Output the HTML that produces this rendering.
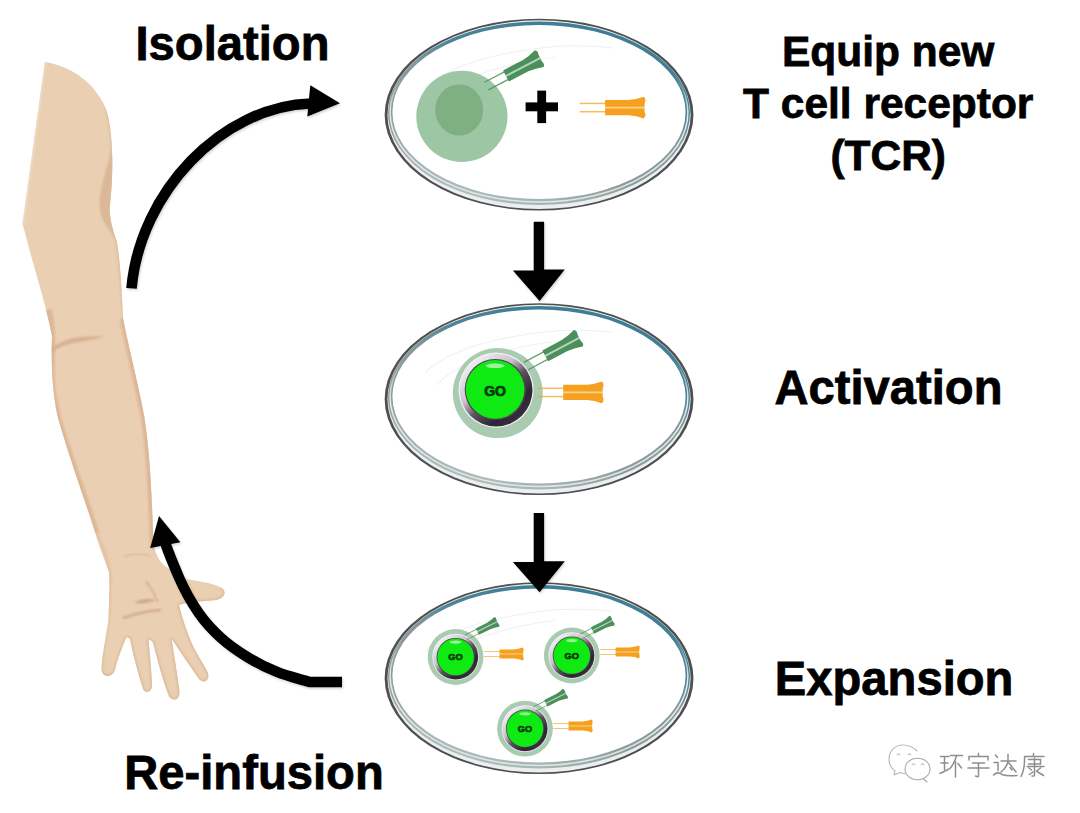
<!DOCTYPE html>
<html><head><meta charset="utf-8">
<style>
html,body{margin:0;padding:0;background:#fff;}
body{width:1080px;height:813px;overflow:hidden;position:relative;}
svg{position:absolute;left:0;top:0;}
text{font-family:"Liberation Sans",sans-serif;font-weight:bold;fill:#000;stroke:#000;stroke-width:0.75px;}
</style></head>
<body>
<svg width="1080" height="813" viewBox="0 0 1080 813">
<defs>
  <linearGradient id="rimg" x1="0.75" y1="0" x2="0.25" y2="1">
    <stop offset="0" stop-color="#3a7b95"/>
    <stop offset="0.3" stop-color="#4a8499"/>
    <stop offset="0.45" stop-color="#87989c"/>
    <stop offset="0.7" stop-color="#8f9c9c"/>
    <stop offset="1" stop-color="#b6c3c3"/>
  </linearGradient>
  <linearGradient id="midg" x1="0" y1="0" x2="0" y2="1">
    <stop offset="0" stop-color="#e8eded" stop-opacity="0"/>
    <stop offset="0.3" stop-color="#e8eded" stop-opacity="0"/>
    <stop offset="0.5" stop-color="#e8eded" stop-opacity="1"/>
    <stop offset="1" stop-color="#dfe6e6" stop-opacity="1"/>
  </linearGradient>
  <linearGradient id="ringg" x1="0.15" y1="0.1" x2="0.85" y2="0.9">
    <stop offset="0" stop-color="#f2f0f6"/>
    <stop offset="0.35" stop-color="#c9c2cc"/>
    <stop offset="0.55" stop-color="#5e5260"/>
    <stop offset="0.8" stop-color="#2e2432"/>
    <stop offset="1" stop-color="#3a3040"/>
  </linearGradient>
  <linearGradient id="ring2g" x1="0.2" y1="0" x2="0.8" y2="1">
    <stop offset="0" stop-color="#3a2e38"/>
    <stop offset="0.5" stop-color="#6e6670"/>
    <stop offset="1" stop-color="#e6e4ea"/>
  </linearGradient>
  <g id="dish">
    <ellipse cx="539.05" cy="114.65" rx="154.4" ry="95.9" fill="#4f4f4f"/>
    <ellipse cx="539.05" cy="114.65" rx="151.6" ry="94.3" fill="#eceff0"/>
    <ellipse cx="539" cy="113.25" rx="151" ry="91.75" fill="url(#rimg)"/>
    <ellipse cx="539" cy="112.6" rx="148.9" ry="89.4" fill="none" stroke="url(#midg)" stroke-width="1.4"/>
    <ellipse cx="539" cy="112" rx="146.6" ry="87" fill="#fff"/>
    <path d="M425 88 Q460 55 560 46 Q590 45 612 48" fill="none" stroke="#eef1f1" stroke-width="1.2"/>
    <path d="M436 100 Q470 68 555 57" fill="none" stroke="#f0f3f3" stroke-width="1.2"/>
  </g>
  <!-- receptor: origin at base of stalks midpoint, pointing +x -->
  <g id="rec">
    <rect x="0" y="-4.85" width="26" height="1.4" opacity="0.75"/>
    <rect x="0" y="3.45" width="26" height="1.4" opacity="0.75"/>
    <path d="M25.5 -7.6 L49 -7.6 Q57 -8 64 -10.8 Q66.5 -9 65.6 -6 Q64.6 -3.5 65 -1 L65 1 Q64.6 3.5 65.6 6 Q66.5 9 64 10.8 Q57 8 49 7.6 L25.5 7.6 Z"/>
    <rect x="25.5" y="-0.9" width="40.5" height="1.8" fill="#fff" opacity="0.5"/>
  </g>
  <g id="recg">
    <rect x="0" y="-4.9" width="23" height="1.3" opacity="0.85"/>
    <rect x="0" y="3.6" width="23" height="1.3" opacity="0.85"/>
    <path d="M22 -6.2 L44 -6.2 Q52 -6.8 59.5 -9.4 Q62 -7.5 60.8 -4.5 Q60.2 -2.5 60.6 -0.8 L60.6 0.8 Q60.2 2.5 60.8 4.5 Q62 7.5 59.5 9.4 Q52 6.8 44 6.2 L22 6.2 Z"/>
    <rect x="22" y="-1" width="39" height="2" fill="#fff" opacity="0.6"/>
  </g>
  <g id="gocell">
    <circle cx="0" cy="0" r="45" fill="#a9cbb1"/>
    <circle cx="-1.7" cy="-3" r="37.6" fill="#f0f2f0"/>
    <circle cx="-1.7" cy="-3" r="36.4" fill="url(#ringg)"/>
    <circle cx="-2.5" cy="-3.6" r="30.6" fill="#4d4450"/>
    <circle cx="-2.7" cy="-3.7" r="29.3" fill="#0eea12"/>
    <ellipse cx="-2.7" cy="-27.3" rx="9.5" ry="2.3" fill="#9af59c"/>
    <text x="-2.7" y="3" font-size="14" text-anchor="middle" style="fill:#083808;stroke:#083808;stroke-width:0.7">GO</text>
  </g>
  <g id="gocells">
    <circle cx="0" cy="0" r="45" fill="#a9cbb1"/>
    <circle cx="0" cy="0" r="37.6" fill="#f0f2f0"/>
    <circle cx="0" cy="0" r="36.4" fill="url(#ringg)"/>
    <circle cx="0" cy="0" r="30.8" fill="#4d4450"/>
    <circle cx="0" cy="0" r="29.5" fill="#0eea12"/>
    <ellipse cx="0" cy="-24" rx="9" ry="2.5" fill="#9af59c"/>
    <text x="0" y="5.5" font-size="15" text-anchor="middle" style="fill:#083808;stroke:#083808;stroke-width:0.9">GO</text>
  </g>
</defs>

<!-- arm placeholder -->
<clipPath id="armclip"><path d="M44.8 62 C75 67 98 86 107 112 C114 138 113 178 110 205 C109 216 112 228 117 242 C121 268 122 298 123 318 C128 345 137 378 144 415 C150 450 152 500 153.5 545 C156 555 160 563 168 568 C174 574 178 577 186 579 C198 581 212 583 221 587.5 C227 591 225.5 598 216 600 C204 601.5 190 601 179 605 C181 614 185 626 190 639 C196 654 204 664 208 673 C210 681 203 684 199 679 C190 666 179 650 171.5 638.5 C174 655 178 678 179.5 692 C180 701 171 702 168.5 695 C162 678 157 658 153 642.5 C151 640 149 639 148.5 640 C150 655 151.5 672 152 685 C152 693 145 694 143 689 C138 673 133 655 130 639 C128 637 127 637 126 638 C122 648 117 660 115 670 C112 678 103 678 101.5 670 C102 655 106 638 108.5 620 C109 600 110 585 109 572 C104 558 98 543 95 532 C85 500 70 460 58 418 C52 392 51 360 52 336 C45 300 32 262 24 229 L22.4 224 Z"/></clipPath>
<filter id="shd" x="-20%" y="-20%" width="140%" height="140%"><feDropShadow dx="1" dy="1.5" stdDeviation="1.3" flood-color="#000" flood-opacity="0.18"/></filter>
<filter id="soft" x="-20%" y="-20%" width="140%" height="140%"><feGaussianBlur stdDeviation="0.9"/></filter>
<g id="arm">
  <path d="M44.8 62 C75 67 98 86 107 112 C114 138 113 178 110 205 C109 216 112 228 117 242 C121 268 122 298 123 318 C128 345 137 378 144 415 C150 450 152 500 153.5 545 C156 555 160 563 168 568 C174 574 178 577 186 579 C198 581 212 583 221 587.5 C227 591 225.5 598 216 600 C204 601.5 190 601 179 605 C181 614 185 626 190 639 C196 654 204 664 208 673 C210 681 203 684 199 679 C190 666 179 650 171.5 638.5 C174 655 178 678 179.5 692 C180 701 171 702 168.5 695 C162 678 157 658 153 642.5 C151 640 149 639 148.5 640 C150 655 151.5 672 152 685 C152 693 145 694 143 689 C138 673 133 655 130 639 C128 637 127 637 126 638 C122 648 117 660 115 670 C112 678 103 678 101.5 670 C102 655 106 638 108.5 620 C109 600 110 585 109 572 C104 558 98 543 95 532 C85 500 70 460 58 418 C52 392 51 360 52 336 C45 300 32 262 24 229 L22.4 224 Z" fill="#eacfb2"/>
  <g clip-path="url(#armclip)">
    <g filter="url(#soft)" fill="none" stroke="#dbb797">
      <!-- right edge shading upper arm -->
      <path d="M98 86 C110 105 114 138 113 178 C112 200 111 215 117 242 C121 268 123 298 124 318" stroke-width="4" stroke="#e0bfa0"/>
      <!-- forearm left band -->
      <path d="M47 310 C52 325 51 345 50 360 C50 392 51 392 57 420 C70 462 85 502 95 534" stroke-width="9"/>
      <!-- forearm right band -->
      <path d="M124 318 C129 346 138 379 145 416 C151 451 153 500 154.5 548" stroke-width="9"/>
      <!-- palm left -->
      <path d="M96 532 C104 550 110 565 110 580 C110 600 109 612 108 622 C104 645 102 660 102 670" stroke-width="3" stroke="#e0c0a2"/>
      <path d="M101.5 670 C104 678 112 678 115 670 C118 660 122 648 126 638 C128 637 130 637 130 639 C133 655 138 673 143 689 C145 694 152 693 152 685 C151.5 672 150 655 148.5 640 C149 639 151 640 153 642.5 C157 658 162 678 168.5 695 C171 702 180 701 179.5 692 C178 678 174 655 171.5 638.5 C179 650 190 666 199 679 C203 684 210 681 208 673 C204 664 196 654 190 639 C185 626 181 614 179 605 C190 601 204 601.5 216 600 C225.5 598 227 591 221 587.5" stroke-width="3" stroke="#dcba9b"/>
    </g>
    <!-- bicep lens -->
    <path d="M113 145 C108 165 100 185 99.5 204 C100 216 104 224 111 232 L117 242 C112 228 109.5 216 110.5 204 C112 188 113.5 170 113 145 Z" fill="#dbb797" filter="url(#soft)"/>
    <!-- elbow crease -->
    <path d="M50 350 C58 342 70 338 82 337 C92 336 98 336 104 336.5 C96 339 86 341 78 342 C68 344 60 346 52 352 Z" fill="#d6b091" filter="url(#soft)"/>
    <!-- left edge light -->
    <path d="M44.8 62 L22.4 224" stroke="#f2e2d2" stroke-width="2" fill="none" filter="url(#soft)"/>
  </g>
  <!-- wrist crease -->
  <path d="M124 557 C132 553 141 553 150 556" fill="none" stroke="#dcb899" stroke-width="1.5" filter="url(#soft)"/>
  <!-- palm creases -->
  <path d="M146 581 C151 588 155 595 158 602" fill="none" stroke="#d2a98a" stroke-width="1.5" filter="url(#soft)"/>
  <path d="M134 603 C140 599 148 598 156 600 C148 603 141 604 134 603 Z" fill="#cfa588" filter="url(#soft)"/>
  <path d="M123 618 C134 614 148 611 161 610" fill="none" stroke="#cda385" stroke-width="2" filter="url(#soft)"/>
</g>

<!-- dishes -->
<use href="#dish"/>
<use href="#dish" y="284.5"/>
<use href="#dish" y="563.5"/>

<!-- dish 1 contents -->
<circle cx="461.9" cy="116.4" r="45.6" fill="#9dc6a5"/>
<ellipse cx="459.2" cy="110" rx="24" ry="25.6" fill="#7eb084"/>
<g fill="#4b8f5a" transform="translate(486.45 86.05) rotate(-27.5)"><use href="#recg"/></g>
<rect x="525.6" y="102.4" width="32.4" height="8.9"/>
<rect x="537.3" y="90.6" width="8.8" height="32.5"/>
<g fill="#f5a11f" transform="translate(579.6 107.6)"><use href="#rec"/></g>

<!-- dish 2 contents -->
<g transform="translate(497.8 393.1)"><use href="#gocell"/></g>
<g fill="#4b8f5a" transform="translate(525.8 366.2) rotate(-28)"><use href="#recg"/></g>
<g fill="#f5a11f" transform="translate(537.7 392.4)"><use href="#rec"/></g>


<!-- dish 3 contents -->
<g transform="translate(455.6 657) scale(0.62)"><use href="#gocells"/></g>
<g fill="#4b8f5a" transform="translate(465.9 637.3) rotate(-26.5) scale(0.58)"><use href="#recg"/></g>
<g fill="#f5a11f" transform="translate(484.2 654) scale(0.6)"><use href="#rec"/></g>
<g transform="translate(571.8 655.5) scale(0.62)"><use href="#gocells"/></g>
<g fill="#4b8f5a" transform="translate(581.2 636.3) rotate(-27) scale(0.58)"><use href="#recg"/></g>
<g fill="#f5a11f" transform="translate(600.3 652) scale(0.6)"><use href="#rec"/></g>
<g transform="translate(525 728.6) scale(0.62)"><use href="#gocells"/></g>
<g fill="#4b8f5a" transform="translate(534.4 709) rotate(-26.6) scale(0.58)"><use href="#recg"/></g>
<g fill="#f5a11f" transform="translate(553.2 726) scale(0.6)"><use href="#rec"/></g>

<!-- vertical arrows -->
<g filter="url(#shd)">
<path d="M533.7 221.7 H544.1 V269.6 H564.8 L539.6 301.1 L512.9 270.6 H533.7 Z"/>
<path d="M533.7 512.9 H544.1 V561.3 H564.8 L539.6 592.3 L512.9 562 H533.7 Z"/>

<!-- curved arrows -->
<path d="M131.5 288.4 C140 192 222 106 311 103.5" fill="none" stroke="#000" stroke-width="10.6"/>
<path d="M310.3 85.2 L340 103.2 L307.3 116.6 Z"/>
<path d="M342,682 L309.6,682 C298.9,678.7 287.9,676.3 277.6,672.2 C267.4,668.1 257.5,663.1 248.1,657.4 C238.7,651.7 229.2,645.2 221,637.8 C212.8,630.4 205.5,622.6 198.9,613.2 C192.3,603.8 184.5,590 179,577.5 C174.5,567 169,554 166,545 C165,541 164.6,537 164.3,532" fill="none" stroke="#000" stroke-width="10.5"/>
<path d="M159 516 L180.4 542.3 L150.2 548 Z"/>


</g>
<!-- watermark -->
<g fill="none" stroke="#a8a8a8" stroke-width="1.1" stroke-linecap="round" stroke-linejoin="round">
  <path d="M917 751 C913 747 908 745 903 745 C894 745 889 752 889 759 C889 764 891 768 895 771 L894 775 L900 772.5 C903 773.5 905 773.6 905 773.6" stroke="#b8b8b8"/>
  <ellipse cx="917.5" cy="769" rx="12.5" ry="10.8"/>
  <path d="M923.5 779 L927 782"/>
  <path d="M897 754.5 Q898.5 752.5 900 754.5 M908 754.5 Q909.5 752.5 911 754.5" stroke-width="1"/>
  <path d="M912 764.5 Q913.5 762.5 915 764.5 M921 764.5 Q922.5 762.5 924 764.5" stroke-width="1"/>
</g>
<g fill="none" stroke="#8e8e8e" stroke-width="1.5" stroke-linecap="round" transform="translate(939.5 753)">
  <path d="M1 3.5 H9.5 M5 3.5 V16.5 M1.5 10 H8.5 M0.5 20.5 L9.5 16"/>
  <path d="M11 2.5 H23 M17 3 Q14.5 11 10.5 15.5 M16 8.5 V24 M18.5 10.5 L22 15"/>
</g>
<g fill="none" stroke="#8e8e8e" stroke-width="1.5" stroke-linecap="round" transform="translate(966.5 753)">
  <path d="M12 0.5 V3 M2.5 7 V3.5 H21.5 V7 M6 10 H18 M1.5 15 H22.5 M12 10 V23 Q12 24.5 9 23"/>
</g>
<g fill="none" stroke="#8e8e8e" stroke-width="1.5" stroke-linecap="round" transform="translate(993 753)">
  <path d="M2.5 2 L4.5 4.5 M1 9.5 H5 V17.5 M0.5 22 Q5 18 9 21.5 Q14 23.5 24 22.5"/>
  <path d="M8 8 H23 M15 1.5 V8 Q14 14 8 19 M15.5 9.5 L23 19 M17 14.5 L19 17"/>
</g>
<g fill="none" stroke="#8e8e8e" stroke-width="1.5" stroke-linecap="round" transform="translate(1020.5 753)">
  <path d="M13 0.5 V2.5 M4 3.5 H23.5 M4 3.5 Q4.5 16 0.5 23.5"/>
  <path d="M8 6.5 H20 V11 H8 M6.5 13.5 H23.5 M14 5 V22 Q14 23.5 11.5 23 M8.5 15 L11 17 M20 15 L16 18 M9 21.5 L12.5 19 M16.5 18.5 L23 22.5"/>
</g>

<!-- labels -->
<text transform="translate(135.5 59.9) scale(1 1.015)" font-size="47.2">Isolation</text>
<text transform="translate(888.2 66.2) scale(1 1.015)" font-size="42.5" text-anchor="middle">Equip new</text>
<text transform="translate(888.2 118) scale(1 1.015)" font-size="42.5" text-anchor="middle">T cell receptor</text>
<text transform="translate(888.2 170) scale(1 1.015)" font-size="42.5" text-anchor="middle">(TCR)</text>
<text transform="translate(774.4 404) scale(1 1.015)" font-size="47.2">Activation</text>
<text transform="translate(774.8 694.5) scale(1 1.015)" font-size="47.2">Expansion</text>
<text transform="translate(124.2 788.6) scale(1 1.015)" font-size="47.2">Re-infusion</text>
</svg>
</body></html>
